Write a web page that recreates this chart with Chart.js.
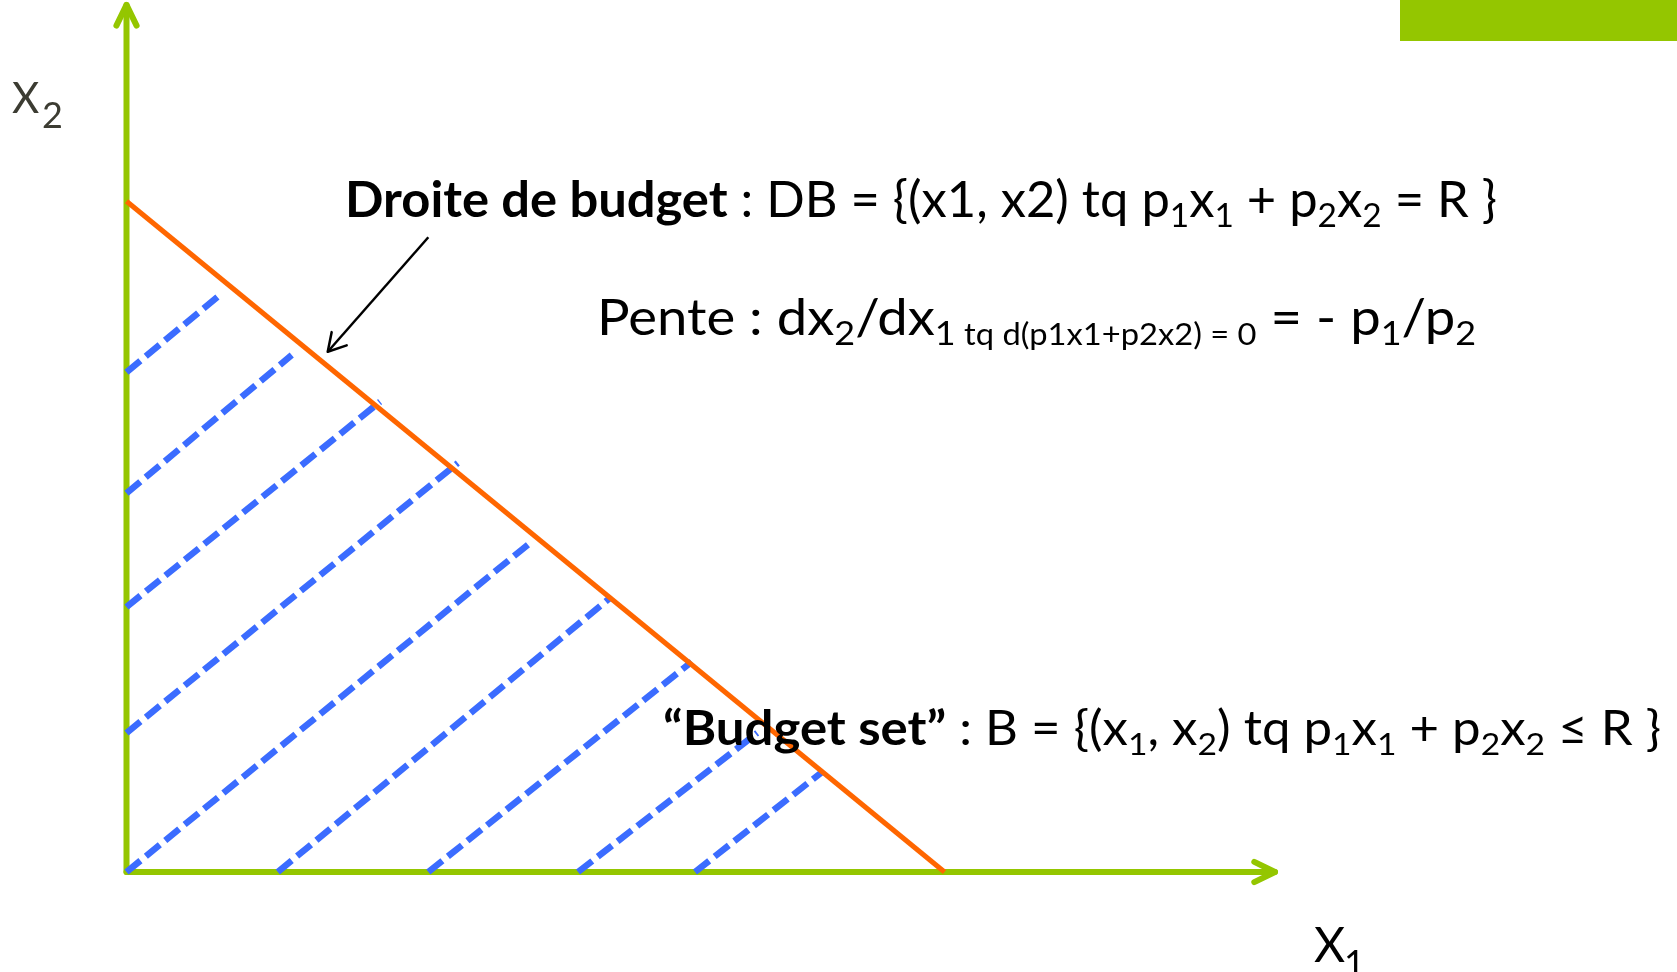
<!DOCTYPE html>
<html>
<head>
<meta charset="utf-8">
<script src="https://cdn.jsdelivr.net/npm/chart.js@4.4.0/dist/chart.umd.min.js"></script>
<style>
  html, body { margin: 0; padding: 0; background: #fff; overflow: hidden; }
  #wrap { width: 1677px; height: 972px; position: relative; }
</style>
</head>
<body>
<div id="wrap"><canvas id="graphe"></canvas></div>
<script>
// Données (unités du graphique, origine en 0,0)
var axeXfin = 14.04;
var axeYfin = 10.6;

// Droite de budget : R/p1 = 10, R/p2 = 8.2
var budgetX = [0, 10];
var budgetY = [8.2, 0];

// Hachures de l'ensemble de budget (début / fin de chaque segment)
var hachX0 = [0, 0, 0, 0, 0, 1.85, 3.69, 5.52, 6.95];
var hachY0 = [6.11, 4.63, 3.24, 1.70, 0, 0, 0, 0, 0];
var hachX1 = [1.16, 2.02, 3.10, 4.05, 4.93, 5.91, 6.91, 7.71, 8.50];
var hachY1 = [7.07, 6.32, 5.75, 5.00, 4.02, 3.35, 2.57, 1.70, 1.22];

// Flèche qui montre la droite
var flecheX = [3.69, 2.46];
var flecheY = [7.76, 6.36];

var vert = '#94c600';
var orange = '#ff6600';
var bleu = '#3b6cff';
var police = 'Lato, "DejaVu Sans", sans-serif';

var datasets = [];

datasets.push({
    data: [{x: 0, y: 0}, {x: axeXfin, y: 0}],
    borderColor: vert, borderWidth: 6, borderCapStyle: 'round',
    fleche: {longueur: 23, angle: 26, largeur: 6, couleur: vert},
    order: 4
});
datasets.push({
    data: [{x: 0, y: 0}, {x: 0, y: axeYfin}],
    borderColor: vert, borderWidth: 6, borderCapStyle: 'round',
    fleche: {longueur: 23, angle: 26, largeur: 6, couleur: vert},
    order: 4
});

for (var i = 0; i < hachX0.length; i++) {
    datasets.push({
        data: [{x: hachX0[i], y: hachY0[i]}, {x: hachX1[i], y: hachY1[i]}],
        borderColor: bleu, borderWidth: 6.5, borderDash: [18, 7],
        order: 3
    });
}

datasets.push({
    data: [{x: budgetX[0], y: budgetY[0]}, {x: budgetX[1], y: budgetY[1]}],
    borderColor: orange, borderWidth: 5,
    order: 2
});

datasets.push({
    data: [{x: flecheX[0], y: flecheY[0]}, {x: flecheX[1], y: flecheY[1]}],
    borderColor: '#000', borderWidth: 2.5,
    fleche: {longueur: 20, angle: 30, largeur: 2.5, couleur: '#000'},
    order: 1
});

// pointes de flèches
var pluginFleches = {
    id: 'fleches',
    afterDatasetsDraw: function (chart) {
        var ctx = chart.ctx;
        chart.data.datasets.forEach(function (ds, i) {
            if (!ds.fleche) return;
            var pts = chart.getDatasetMeta(i).data;
            var a = pts[pts.length - 2], b = pts[pts.length - 1];
            var dir = Math.atan2(a.y - b.y, a.x - b.x);
            var ang = ds.fleche.angle * Math.PI / 180;
            var L = ds.fleche.longueur;
            ctx.save();
            ctx.strokeStyle = ds.fleche.couleur;
            ctx.lineWidth = ds.fleche.largeur;
            ctx.lineCap = 'round';
            ctx.lineJoin = 'round';
            ctx.beginPath();
            ctx.moveTo(b.x + L * Math.cos(dir + ang), b.y + L * Math.sin(dir + ang));
            ctx.lineTo(b.x, b.y);
            ctx.lineTo(b.x + L * Math.cos(dir - ang), b.y + L * Math.sin(dir - ang));
            ctx.stroke();
            ctx.restore();
        });
    }
};

function fontDe(r, taille) {
    var t = taille;
    if (r.s === 1) t = taille * 0.66;
    if (r.s === 2) t = taille * 0.6;
    return (r.b ? 'bold ' : '') + t + 'px ' + police;
}

function texteRiche(ctx, runs, gauche, droite, ligne, taille) {
    var w = 0;
    runs.forEach(function (r) { ctx.font = fontDe(r, taille); w += ctx.measureText(r.t).width; });
    var sx = (droite - gauche) / w;
    ctx.save();
    ctx.translate(gauche, ligne);
    ctx.scale(sx, 1);
    ctx.fillStyle = '#000';
    ctx.textBaseline = 'alphabetic';
    var x = 0;
    runs.forEach(function (r) {
        ctx.font = fontDe(r, taille);
        ctx.fillText(r.t, x, r.s ? 10 : 0);
        x += ctx.measureText(r.t).width;
    });
    ctx.restore();
}

var texte1 = [
    {t: 'Droite de budget', b: true}, {t: ' : DB = {(x1, x2) tq p'}, {t: '1', s: 1}, {t: 'x'}, {t: '1', s: 1},
    {t: ' + p'}, {t: '2', s: 1}, {t: 'x'}, {t: '2', s: 1}, {t: ' = R }'}
];
var texte2 = [
    {t: 'Pente : dx'}, {t: '2', s: 1}, {t: '/dx'}, {t: '1', s: 1}, {t: ' tq d(p1x1+p2x2) = 0', s: 2},
    {t: ' = - p'}, {t: '1', s: 1}, {t: '/p'}, {t: '2', s: 1}
];
var texte3 = [
    {t: '\u201cBudget set\u201d', b: true}, {t: ' : B = {(x'}, {t: '1', s: 1}, {t: ', x'}, {t: '2', s: 1},
    {t: ') tq p'}, {t: '1', s: 1}, {t: 'x'}, {t: '1', s: 1}, {t: ' + p'}, {t: '2', s: 1}, {t: 'x'}, {t: '2', s: 1},
    {t: ' \u2264 R }'}
];

var pluginTextes = {
    id: 'textes',
    beforeDraw: function (chart) {
        var ctx = chart.ctx;
        ctx.save();
        ctx.fillStyle = vert;
        ctx.fillRect(1400, 0, 277, 41);
        ctx.restore();
    },
    afterDraw: function (chart) {
        var ctx = chart.ctx;
        texteRiche(ctx, texte1, 345, 1497, 217, 50);
        texteRiche(ctx, texte2, 597, 1476, 335, 50);
        texteRiche(ctx, texte3, 663, 1661, 745, 48);

        ctx.save();
        ctx.fillStyle = '#3c3c32';
        ctx.font = '42px ' + police;
        ctx.fillText('X', 12, 113);
        ctx.font = '36px ' + police;
        ctx.fillText('2', 42, 128);
        ctx.fillStyle = '#000';
        ctx.font = '48px ' + police;
        ctx.fillText('X', 1314, 962);
        ctx.font = '36px ' + police;
        ctx.fillText('1', 1344, 976);
        ctx.restore();
    }
};

new Chart(document.getElementById('graphe'), {
    type: 'scatter',
    data: {datasets: datasets},
    options: {
        responsive: true,
        maintainAspectRatio: false,
        animation: false,
        layout: {padding: 0},
        showLine: true,
        elements: {point: {radius: 0, hoverRadius: 0}, line: {tension: 0}},
        plugins: {legend: {display: false}, tooltip: {enabled: false}},
        scales: {
            x: {type: 'linear', min: -126.5 / 81.8, max: (1677 - 126.5) / 81.8, display: false},
            y: {type: 'linear', min: -100 / 81.8, max: 872 / 81.8, display: false}
        }
    },
    plugins: [pluginFleches, pluginTextes]
});
</script>
</body>
</html>
